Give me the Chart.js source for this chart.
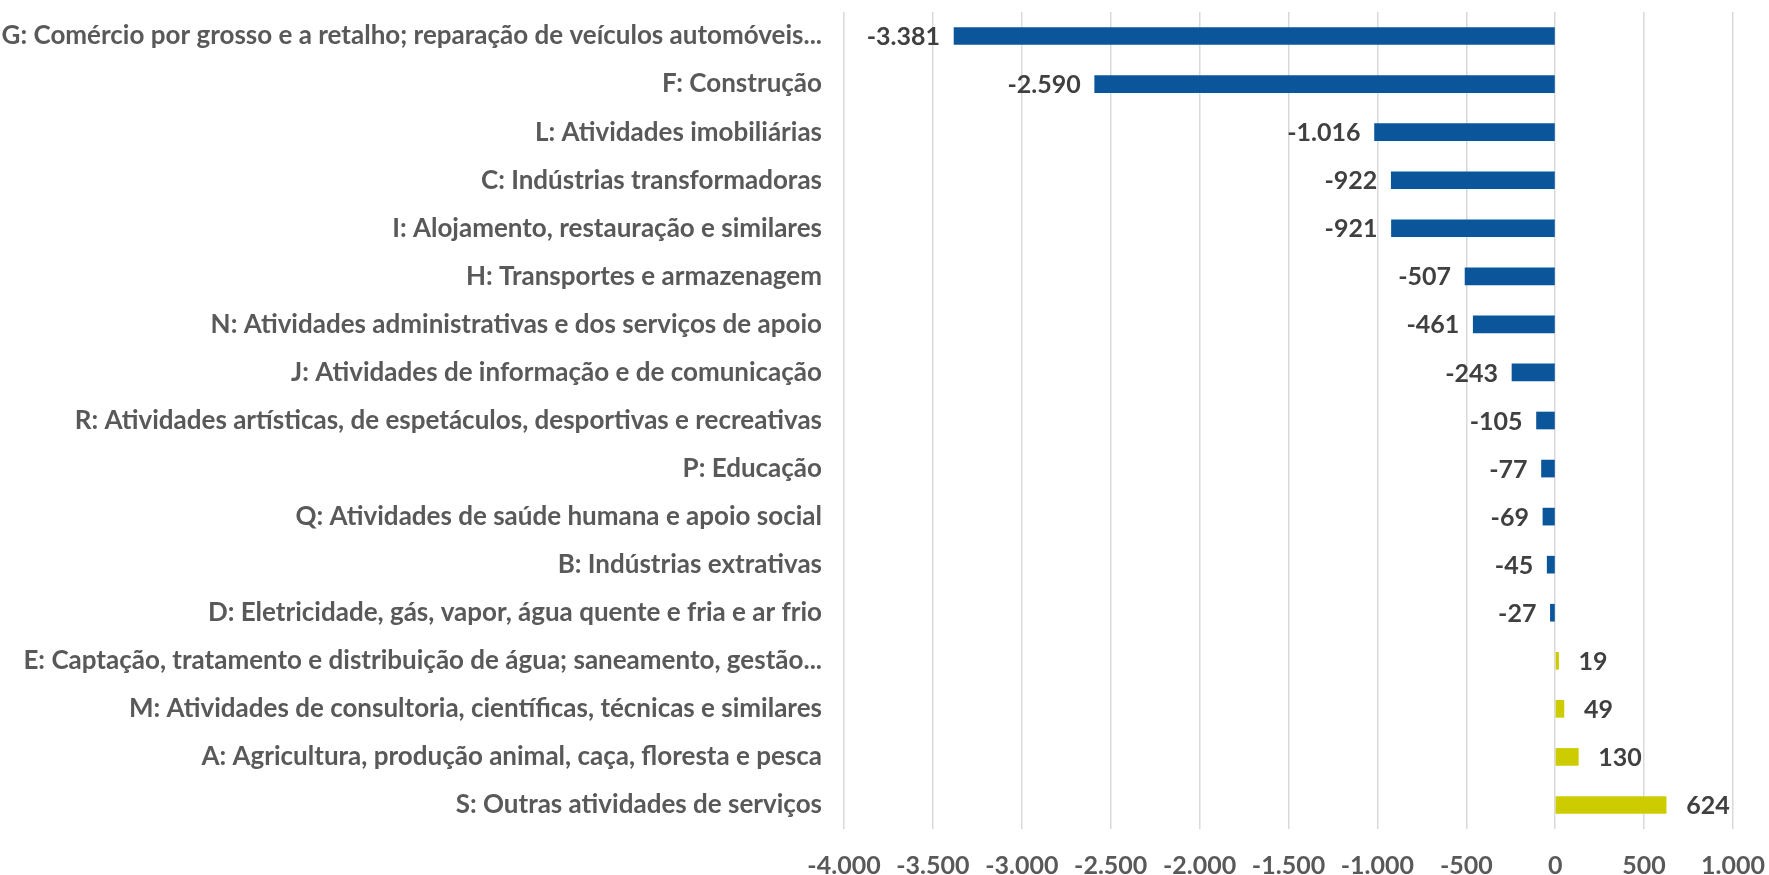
<!DOCTYPE html>
<html>
<head>
<meta charset="utf-8">
<script src="https://cdn.jsdelivr.net/npm/chart.js@4.4.1/dist/chart.umd.min.js"></script>
<style>
  html, body { margin: 0; padding: 0; background: #ffffff; }
  #wrap { width: 1769px; height: 875px; }
</style>
</head>
<body>
<div id="wrap"><canvas id="grafico" width="1769" height="875"></canvas></div>
<script>
const setores = [
  'G: Comércio por grosso e a retalho; reparação de veículos automóveis...',
  'F: Construção',
  'L: Atividades imobiliárias',
  'C: Indústrias transformadoras',
  'I: Alojamento, restauração e similares',
  'H: Transportes e armazenagem',
  'N: Atividades administrativas e dos serviços de apoio',
  'J: Atividades de informação e de comunicação',
  'R: Atividades artísticas, de espetáculos, desportivas e recreativas',
  'P: Educação',
  'Q: Atividades de saúde humana e apoio social',
  'B: Indústrias extrativas',
  'D: Eletricidade, gás, vapor, água quente e fria e ar frio',
  'E: Captação, tratamento e distribuição de água; saneamento, gestão...',
  'M: Atividades de consultoria, científicas, técnicas e similares',
  'A: Agricultura, produção animal, caça, floresta e pesca',
  'S: Outras atividades de serviços'
];
const variacao = [-3381, -2590, -1016, -922, -921, -507, -461, -243, -105, -77, -69, -45, -27, 19, 49, 130, 624];

const eixoMin = -4000;
const eixoMax = 1000;
const eixoPasso = 500;

const AZUL = '#0B569B';
const AMARELO = '#CCCC00';
const FONTE = 'Lato, "Liberation Sans", sans-serif';

function formatar(v) {
  const s = String(Math.abs(Math.round(v))).replace(/\B(?=(\d{3})+(?!\d))/g, '.');
  return (v < 0 ? '-' : '') + s;
}

// valores ao lado das barras
const etiquetas = {
  id: 'etiquetas',
  afterDatasetsDraw(chart) {
    const ctx = chart.ctx;
    const meta = chart.getDatasetMeta(0);
    ctx.save();
    ctx.font = 'bold 25px ' + FONTE;
    ctx.fillStyle = '#404040';
    ctx.textBaseline = 'middle';
    meta.data.forEach((bar, i) => {
      const v = variacao[i];
      if (v < 0) {
        ctx.textAlign = 'right';
        ctx.fillText(formatar(v), bar.x - 14, bar.y + 1);
      } else {
        ctx.textAlign = 'left';
        ctx.fillText(formatar(v), bar.x + 20, bar.y + 1);
      }
    });
    ctx.restore();
  }
};

const ctx = document.getElementById('grafico');

new Chart(ctx, {
  type: 'bar',
  data: {
    labels: setores,
    datasets: [{
      data: variacao,
      backgroundColor: variacao.map(v => v < 0 ? AZUL : AMARELO),
      borderWidth: 0,
      barThickness: 17
    }]
  },
  options: {
    indexAxis: 'y',
    responsive: false,
    animation: false,
    layout: { padding: { top: 12, right: 36, left: 0, bottom: 0 } },
    plugins: {
      legend: { display: false },
      tooltip: { enabled: false }
    },
    scales: {
      x: {
        min: eixoMin,
        max: eixoMax,
        border: { display: false },
        grid: { color: '#D9D9D9', lineWidth: 1.5, drawTicks: false },
        ticks: {
          stepSize: eixoPasso,
          padding: 22,
          color: '#595959',
          font: { family: FONTE, size: 25, weight: 'bold' },
          callback: v => formatar(v)
        },
        afterFit(scale) {
          scale.height = 46;
          scale.paddingLeft = 0;
          scale.paddingRight = 0;
        }
      },
      y: {
        border: { display: false },
        grid: { display: false, drawTicks: false },
        ticks: {
          padding: 22,
          color: '#595959',
          autoSkip: false,
          font: { family: FONTE, size: 26, weight: 'bold' }
        },
        afterFit(scale) {
          scale.width = 844;
          scale.paddingTop = 0;
          scale.paddingBottom = 0;
        }
      }
    }
  },
  plugins: [etiquetas]
});
</script>
</body>
</html>
